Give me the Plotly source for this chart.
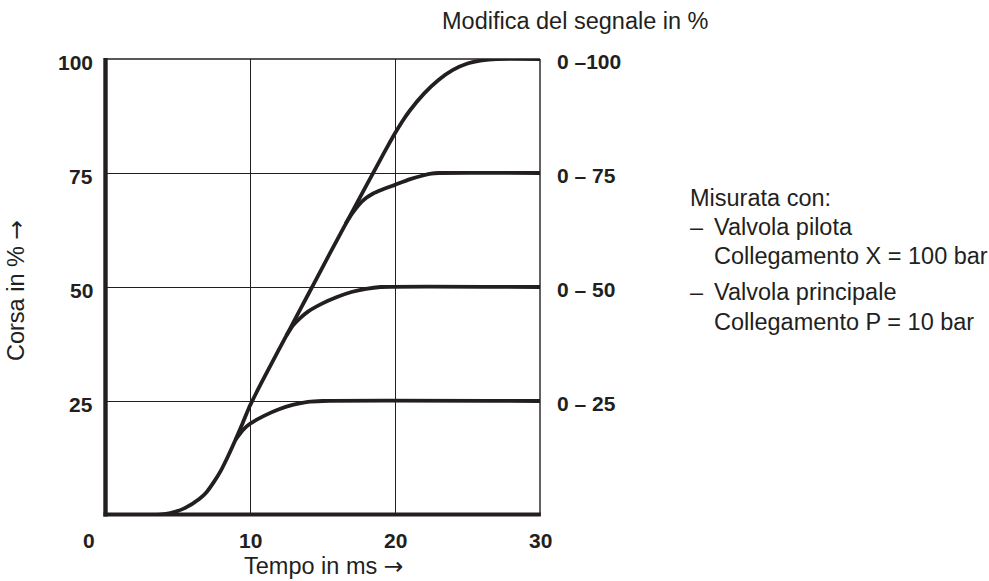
import plotly.graph_objects as go

# ---- data ----
t_100 = [0, 3.5, 4.5, 5.5, 6.5, 7.0, 7.5, 8.0, 8.5, 9.0, 9.5, 10.0, 10.5, 11, 12, 13, 14, 15, 16, 17, 18, 19, 19.5, 20, 20.5, 21, 22, 23, 24, 25, 26, 27, 30]
v_100 = [0, 0, 0.4, 1.5, 3.5, 5.0, 7.2, 9.8, 13, 16.5, 20.2, 24, 27.2, 30.3, 36.3, 42.3, 48.3, 54.3, 60.3, 66.2, 72.1, 78, 80.9, 83.7, 86.3, 88.6, 92.4, 95.4, 97.6, 99.0, 99.7, 100, 100]
t_75 = [16.6, 17, 17.5, 18, 18.5, 19, 20, 21, 22, 22.5, 23, 30]
v_75 = [63.9, 65.9, 68.0, 69.5, 70.5, 71.2, 72.4, 73.6, 74.5, 74.85, 75, 75]
t_50 = [12.5, 13, 13.5, 14, 15, 16, 17, 18, 19, 30]
v_50 = [39.3, 41.7, 43.3, 44.6, 46.4, 47.8, 48.9, 49.6, 50, 50]
t_25 = [9.0, 9.5, 10, 11, 12, 13, 14, 15, 30]
v_25 = [16.5, 18.6, 20, 21.8, 23.2, 24.2, 24.8, 25, 25]

x_ticks = [0, 10, 20, 30]
x_tick_labels = ["0", "10", "20", "30"]
y_ticks = [25, 50, 75, 100]
y_tick_labels = ["25", "50", "75", "100"]
right_labels = ["0 – 25", "0 – 50", "0 – 75", "0 –100"]
note_title = "Misurata con:"
note_items = [["Valvola pilota", "Collegamento X = 100 bar"],
              ["Valvola principale", "Collegamento P = 10 bar"]]

INK = "#231f20"
BOLD = "Liberation Sans, Arial, sans-serif"
REG = "Liberation Sans, Arial, Helvetica, sans-serif"
ARROW = '<span style="font-family:DejaVu Sans">→</span>'

# plot area in pixels
L, R, T, B = 105, 540, 59, 515
W, H = R - L, B - T
def px(x): return (x - L) / W
def py(y): return (B - y) / H

fig = go.Figure()
for tx, vy in [(t_100, v_100), (t_75, v_75), (t_50, v_50), (t_25, v_25)]:
    fig.add_trace(go.Scatter(x=tx, y=vy, mode="lines", cliponaxis=False,
                             line=dict(color=INK, width=3.8, shape="spline", smoothing=0.6),
                             hoverinfo="skip", showlegend=False))

fig.update_xaxes(range=[0, 30], tickvals=[10, 20], showticklabels=False, ticks="",
                 showgrid=True, gridcolor=INK, gridwidth=1.3, zeroline=False, showline=False)
fig.update_yaxes(range=[0, 100], tickvals=[25, 50, 75], showticklabels=False, ticks="",
                 showgrid=True, gridcolor=INK, gridwidth=1.3, zeroline=False, showline=False)

# frame
fig.add_shape(type="line", xref="paper", yref="paper", x0=0, x1=1, y0=1, y1=1,
              line=dict(color=INK, width=1.4))
fig.add_shape(type="line", xref="paper", yref="paper", x0=1, x1=1, y0=0, y1=1,
              line=dict(color=INK, width=1.4))
fig.add_shape(type="line", xref="paper", yref="paper", x0=px(103.5), x1=1.002, y0=py(514.5), y1=py(514.5),
              line=dict(color=INK, width=3.8))
fig.add_shape(type="line", xref="paper", yref="paper", x0=px(105.5), x1=px(105.5), y0=py(516.5), y1=1.002,
              line=dict(color=INK, width=4.4))

TICKFONT = dict(family=BOLD, size=21, color=INK, weight="bold")
ann = []
# x tick labels
for v, lab in zip(x_ticks, x_tick_labels):
    if v == 0:
        ann.append(dict(x=px(89), xref="paper", y=py(540), yref="paper", text=lab, showarrow=False,
                        xanchor="center", yanchor="middle", font=TICKFONT))
    else:
        ann.append(dict(x=v, xref="x", y=py(540), yref="paper", text=lab, showarrow=False,
                        xanchor="center", yanchor="middle", font=TICKFONT))
# y tick labels
for v, lab in zip(y_ticks, y_tick_labels):
    ann.append(dict(x=px(95), xref="paper", y=v, yref="y", yshift=-3, text=lab, showarrow=False,
                    xanchor="right", yanchor="middle", font=TICKFONT))
# right labels
for v, lab in zip(y_ticks, right_labels):
    ann.append(dict(x=px(555), xref="paper", y=v, yref="y", yshift=-2, text=lab, showarrow=False,
                    xanchor="left", yanchor="middle", font=TICKFONT))
TXT = dict(family=REG, size=23.5, color=INK)
# titles
ann.append(dict(x=px(323), xref="paper", y=py(566), yref="paper", text="Tempo in ms " + ARROW,
                showarrow=False, xanchor="center", yanchor="middle", font=TXT))
ann.append(dict(x=px(16), xref="paper", y=py(291), yref="paper", text="Corsa in % " + ARROW,
                showarrow=False, xanchor="center", yanchor="middle", textangle=-90, font=TXT))
ann.append(dict(x=px(575.5), xref="paper", y=py(21), yref="paper", text="Modifica del segnale in %",
                showarrow=False, xanchor="center", yanchor="middle", font=TXT))
# note
ann.append(dict(x=px(688), xref="paper", y=py(198), yref="paper", text=note_title,
                showarrow=False, xanchor="left", yanchor="middle", font=TXT))
for (y1, y2), (l1, l2) in zip([(227, 256), (292, 322)], note_items):
    ann.append(dict(x=px(688), xref="paper", y=py(y1), yref="paper", text="–",
                    showarrow=False, xanchor="left", yanchor="middle", font=TXT))
    ann.append(dict(x=px(712), xref="paper", y=py(y1), yref="paper", text=l1,
                    showarrow=False, xanchor="left", yanchor="middle", font=TXT))
    ann.append(dict(x=px(712), xref="paper", y=py(y2), yref="paper", text=l2,
                    showarrow=False, xanchor="left", yanchor="middle", font=TXT))

fig.update_layout(width=989, height=581, margin=dict(l=L, r=989 - R, t=T, b=581 - B),
                  paper_bgcolor="white", plot_bgcolor="white", annotations=ann)
fig.write_html("out.html")
